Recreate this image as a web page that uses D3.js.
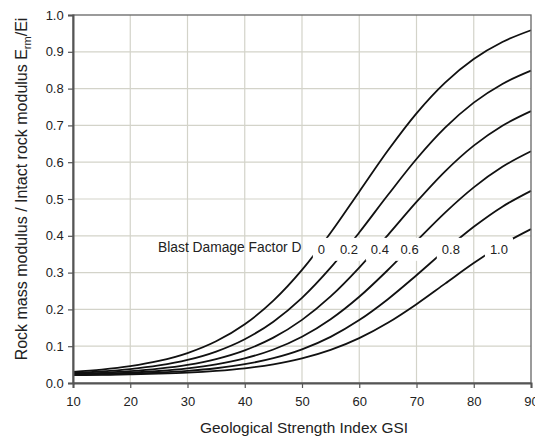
<!DOCTYPE html>
<html><head><meta charset="utf-8">
<script src="https://cdn.jsdelivr.net/npm/d3@7"></script>
<style>body{margin:0;background:#fff}svg{display:block}text{font-family:"Liberation Sans",Arial,sans-serif;fill:#222}</style>
</head><body><svg id="c" width="535" height="439"></svg>
<script>
const gsi = [10,15,20,25,30,35,40,45,50,55,60,65,70,75,80,85,90];
const dFactors = ["0","0.2","0.4","0.6","0.8","1.0"];
const dD0  = [0.0305,0.0365,0.0457,0.0598,0.0814,0.1134,0.1597,0.2237,0.3072,0.4083,0.5200,0.6317,0.7328,0.8163,0.8803,0.9266,0.9586];
const dD02 = [0.0272,0.0313,0.0377,0.0476,0.0627,0.0855,0.1190,0.1666,0.2313,0.3133,0.4090,0.5107,0.6086,0.6937,0.7618,0.8127,0.8488];
const dD04 = [0.0249,0.0277,0.0320,0.0388,0.0492,0.0651,0.0888,0.1232,0.1715,0.2352,0.3136,0.4019,0.4920,0.5752,0.6450,0.6992,0.7389];
const dD06 = [0.0233,0.0251,0.0280,0.0326,0.0396,0.0504,0.0668,0.0910,0.1256,0.1732,0.2343,0.3071,0.3859,0.4632,0.5317,0.5875,0.6297];
const dD08 = [0.0221,0.0234,0.0253,0.0283,0.0329,0.0401,0.0510,0.0675,0.0915,0.1254,0.1709,0.2277,0.2928,0.3607,0.4245,0.4792,0.5222];
const dD10 = [0.0214,0.0221,0.0233,0.0253,0.0282,0.0329,0.0399,0.0507,0.0667,0.0898,0.1218,0.1636,0.2142,0.2700,0.3258,0.3764,0.4182];
const seriesVals = [dD0,dD02,dD04,dD06,dD08,dD10];
const xTicks = [10,20,30,40,50,60,70,80,90];
const yTicks = [0,0.1,0.2,0.3,0.4,0.5,0.6,0.7,0.8,0.9,1.0];
const labelGSI = [53.4,58.2,63.6,68.8,76.0,84.4];
const labelLevel = 0.37;
const titleLabel = "Blast Damage Factor D";

const svg = d3.select("#c");
const m = {l:73, r:4, t:15, b:56};
const W = 535, H = 439;
const x = d3.scaleLinear().domain([10,90]).range([m.l, W-m.r]);
const y = d3.scaleLinear().domain([0,1]).range([H-m.b, m.t]);

// grid
const grid = svg.append("g");
grid.selectAll("line.v").data(xTicks.slice(1,-1)).join("line")
  .attr("x1",d=>x(d)).attr("x2",d=>x(d)).attr("y1",y(0)).attr("y2",y(1))
  .attr("stroke","#d3d3c9").attr("stroke-width",1.2);
grid.selectAll("line.h").data(yTicks.slice(1,-1)).join("line")
  .attr("y1",d=>y(d)).attr("y2",d=>y(d)).attr("x1",x(10)).attr("x2",x(90))
  .attr("stroke","#d3d3c9").attr("stroke-width",1.2);

// curves
const line = d3.line().x((d,i)=>x(gsi[i])).y(d=>y(d)).curve(d3.curveMonotoneX);
svg.append("g").selectAll("path").data(seriesVals).join("path")
  .attr("d",d=>line(d)).attr("fill","none").attr("stroke","#111").attr("stroke-width",1.8);

// labels with white boxes
const lg = svg.append("g");
dFactors.forEach((t,i)=>{
  const g = lg.append("g");
  const txt = g.append("text").attr("x",x(labelGSI[i])).attr("y",y(labelLevel)+7)
    .attr("text-anchor","middle").attr("font-size",13).text(t);
  const bb = txt.node().getBBox();
  g.insert("rect","text").attr("x",bb.x-5).attr("y",bb.y-4).attr("width",bb.width+10).attr("height",bb.height+8).attr("fill","#fff");
});
lg.append("text").attr("x",x(labelGSI[0])-20).attr("y",y(labelLevel)+5.5)
  .attr("text-anchor","end").attr("font-size",13.8).text(titleLabel);

// frame
svg.append("rect").attr("x",x(10)).attr("y",y(1)).attr("width",x(90)-x(10)).attr("height",y(0)-y(1))
  .attr("fill","none").attr("stroke","#666").attr("stroke-width",1.3);

// axes
const xa = svg.append("g").attr("transform",`translate(0,${y(0)})`)
  .call(d3.axisBottom(x).tickValues(xTicks).tickSize(5).tickFormat(d3.format("d")));
const ya = svg.append("g").attr("transform",`translate(${x(10)},0)`)
  .call(d3.axisLeft(y).tickValues(yTicks).tickSize(5).tickFormat(d3.format(".1f")));
[xa,ya].forEach(a=>{
  a.select(".domain").attr("stroke","#555").attr("stroke-width",2);
  a.selectAll(".tick line").attr("stroke","#555").attr("stroke-width",1.2);
  a.selectAll(".tick text").attr("font-size",13).attr("fill","#222")
   .style("font-family","'Liberation Sans',Arial,sans-serif");
});
xa.selectAll(".tick text").attr("dy","1.15em");
ya.selectAll(".tick text").attr("dx","-0.1em");

// titles
svg.append("text").attr("x",(x(10)+x(90))/2+2).attr("y",433).attr("text-anchor","middle")
  .attr("font-size",15.4).text("Geological Strength Index GSI");
const yt = svg.append("text").attr("transform",`translate(27,189) rotate(-90)`)
  .attr("text-anchor","middle").attr("font-size",16);
yt.append("tspan").text("Rock mass modulus / Intact rock modulus  E");
yt.append("tspan").attr("font-size",11).attr("dy",4).text("rm");
yt.append("tspan").attr("dy",-4).text("/Ei");
</script></body></html>
